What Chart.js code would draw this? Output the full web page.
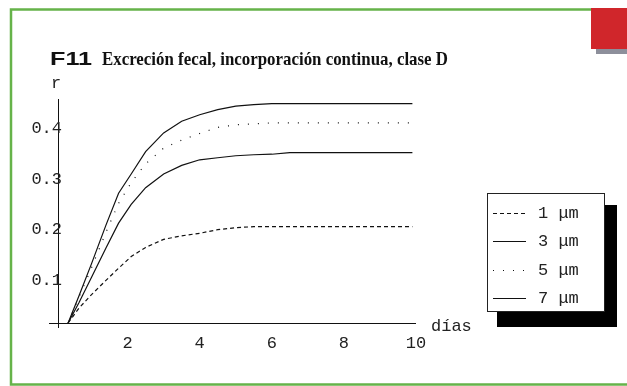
<!DOCTYPE html>
<html><head><meta charset="utf-8">
<script src="https://cdn.jsdelivr.net/npm/chart.js@4/dist/chart.umd.min.js"></script>
<style>html,body{margin:0;padding:0;background:#fff;overflow:hidden}#wrap{position:relative;width:627px;height:386px}</style>
</head><body><div id="wrap"><canvas id="c" width="627" height="386"></canvas></div>
<script>
const titleCode = "F11";
const titleText = "Excreción fecal, incorporación continua, clase D";
const xAxisTitle = "días";
const yAxisTitle = "r";
const days = [0.35, 0.65, 1.0, 1.4, 1.75, 2.1, 2.5, 3.0, 3.5, 4.0, 4.5, 5.0, 5.5, 6.0, 6.5, 7.0, 8.0, 9.0, 9.9];
const seriesLabels = ["1 μm", "3 μm", "5 μm", "7 μm"];
const r1um = [0.016, 0.045, 0.072, 0.100, 0.124, 0.147, 0.165, 0.181, 0.188, 0.193, 0.200, 0.204, 0.206, 0.206, 0.206, 0.206, 0.206, 0.206, 0.206];
const r3um = [0.016, 0.056, 0.106, 0.164, 0.213, 0.250, 0.283, 0.310, 0.327, 0.338, 0.342, 0.346, 0.348, 0.349, 0.352, 0.352, 0.352, 0.352, 0.352];
const r5um = [0.016, 0.066, 0.125, 0.195, 0.252, 0.293, 0.330, 0.361, 0.377, 0.390, 0.402, 0.407, 0.409, 0.411, 0.411, 0.411, 0.411, 0.411, 0.411];
const r7um = [0.016, 0.069, 0.133, 0.209, 0.272, 0.310, 0.354, 0.391, 0.414, 0.427, 0.437, 0.444, 0.447, 0.449, 0.449, 0.449, 0.449, 0.449, 0.449];
const xTicks = [2, 4, 6, 8, 10];
const yTicks = [0.1, 0.2, 0.3, 0.4];

const seriesValues = [r1um, r3um, r5um, r7um];
const dashes = [[4, 3], [], [1, 9], []];
const toPoints = arr => arr.map((v, i) => ({x: days[i], y: v}));

const monoFont = '17px "Liberation Mono", "DejaVu Sans Mono", monospace';

const decorPlugin = {
  id: 'decor',
  beforeDraw(chart) {
    const ctx = chart.ctx;
    ctx.save();
    // frame
    ctx.fillStyle = '#ffffff';
    ctx.fillRect(0, 0, 627, 386);
    ctx.strokeStyle = '#66b34a';
    ctx.lineWidth = 2.5;
    ctx.beginPath();
    ctx.moveTo(640, 9.5); ctx.lineTo(11, 9.5); ctx.lineTo(11, 384.5); ctx.lineTo(640, 384.5);
    ctx.stroke();
    ctx.fillStyle = '#8d8f9b';
    ctx.fillRect(596, 49, 31, 5);
    ctx.fillStyle = '#d0262b';
    ctx.fillRect(591, 8, 36, 41);
    // title
    ctx.fillStyle = '#111';
    ctx.textBaseline = 'alphabetic';
    ctx.textAlign = 'left';
    ctx.font = 'bold 18px "Liberation Sans", Arial, sans-serif';
    const cw = ctx.measureText(titleCode).width;
    ctx.save();
    ctx.translate(50, 65);
    ctx.scale(42 / cw, 1);
    ctx.fillText(titleCode, 0, 0);
    ctx.restore();
    ctx.font = 'bold 19px "Liberation Serif", "Times New Roman", serif';
    const tw = ctx.measureText(titleText).width;
    ctx.save();
    ctx.translate(102, 65);
    ctx.scale(346 / tw, 1);
    ctx.fillText(titleText, 0, 0);
    ctx.restore();
    ctx.restore();
  },
  afterDraw(chart) {
    const ctx = chart.ctx;
    const xs = chart.scales.x, ys = chart.scales.y, a = chart.chartArea;
    ctx.save();
    // axes
    ctx.strokeStyle = '#111';
    ctx.lineWidth = 1;
    const ax = Math.round(xs.getPixelForValue(0.07)) + 0.5;
    const ay = Math.round(ys.getPixelForValue(0.0158)) + 0.5;
    ctx.beginPath();
    ctx.moveTo(a.left, ay); ctx.lineTo(a.right, ay);
    ctx.moveTo(ax, a.top); ctx.lineTo(ax, a.bottom);
    ctx.stroke();
    // tick labels
    ctx.fillStyle = '#222';
    ctx.font = monoFont;
    ctx.textBaseline = 'middle';
    ctx.textAlign = 'center';
    xTicks.forEach(t => ctx.fillText(String(t), xs.getPixelForValue(t), 343));
    ctx.textAlign = 'right';
    yTicks.forEach(t => ctx.fillText(t.toFixed(1), 62, ys.getPixelForValue(t)));
    ctx.textAlign = 'center';
    ctx.fillText(yAxisTitle, 56, 83);
    ctx.textAlign = 'left';
    ctx.fillText(xAxisTitle, 431, 326);
    // legend
    ctx.fillStyle = '#000';
    ctx.fillRect(497, 205, 120, 122);
    ctx.fillStyle = '#fff';
    ctx.fillRect(487, 193, 118, 119);
    ctx.strokeStyle = '#222';
    ctx.strokeRect(487.5, 193.5, 117, 118);
    chart.data.datasets.forEach((ds, i) => {
      const yy = Math.round(213 + i * 28.3) + 0.5;
      ctx.strokeStyle = ds.borderColor;
      ctx.lineWidth = ds.borderWidth;
      ctx.setLineDash(ds.borderDash || []);
      ctx.beginPath();
      ctx.moveTo(493, yy); ctx.lineTo(526, yy);
      ctx.stroke();
      ctx.setLineDash([]);
      ctx.fillStyle = '#222';
      ctx.font = monoFont;
      ctx.textBaseline = 'middle';
      ctx.textAlign = 'left';
      ctx.fillText(ds.label, 538, yy);
    });
    ctx.restore();
  }
};

new Chart(document.getElementById('c'), {
  type: 'line',
  data: {
    datasets: seriesLabels.map((lab, i) => ({
      label: lab,
      data: toPoints(seriesValues[i]),
      borderColor: '#111',
      borderWidth: 1.2,
      borderDash: dashes[i],
      pointRadius: 0,
      tension: 0,
      fill: false
    }))
  },
  options: {
    responsive: false,
    animation: false,
    devicePixelRatio: 1,
    layout: {padding: {left: 49, top: 99, right: 211, bottom: 58}},
    scales: {
      x: {type: 'linear', min: -0.18, max: 10, display: false},
      y: {type: 'linear', min: 0.006, max: 0.458, display: false}
    },
    plugins: {legend: {display: false}, tooltip: {enabled: false}, title: {display: false}}
  },
  plugins: [decorPlugin]
});
</script>
</body></html>
